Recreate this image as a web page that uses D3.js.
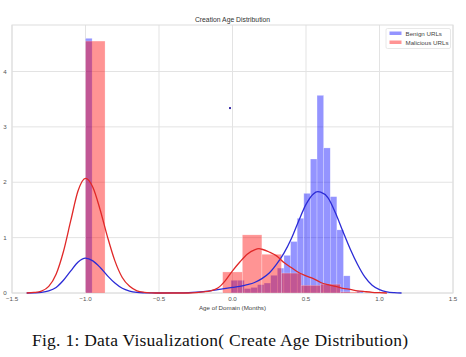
<!DOCTYPE html>
<html><head><meta charset="utf-8">
<script src="https://cdn.jsdelivr.net/npm/d3@7"></script>
<style>
html,body{margin:0;padding:0;background:#fff;}
svg{display:block;}
</style></head>
<body>
<svg id="chart" width="466" height="357"></svg>
<script>
// ---------- data ----------
const title = "Creation Age Distribution";
const xLabel = "Age of Domain (Months)";
const caption = "Fig. 1: Data Visualization( Create Age Distribution)";
const seriesNames = ["Benign URLs", "Malicious URLs"];
const xTicks = [-1.5, -1.0, -0.5, 0.0, 0.5, 1.0, 1.5];
const xTickLabels = ["\u22121.5", "\u22121.0", "\u22120.5", "0.0", "0.5", "1.0", "1.5"];
const yTicks = [0, 1, 2, 3, 4];
const yTickLabels = ["0", "1", "2", "3", "4"];

// benign histogram: lower bin edges, upper bin edges, density
const benignLo = [-1.0, -0.01, 0.035, 0.08, 0.125, 0.17, 0.215, 0.26, 0.305, 0.35, 0.395, 0.44, 0.485, 0.53, 0.575, 0.62, 0.665, 0.71, 0.755, 0.845];
const benignHi = [-0.955, 0.035, 0.08, 0.125, 0.17, 0.215, 0.26, 0.305, 0.35, 0.395, 0.44, 0.485, 0.53, 0.575, 0.62, 0.665, 0.71, 0.755, 0.80, 0.89];
const benignH  = [4.6, 0.23, 0.23, 0.08, 0.10, 0.15, 0.18, 0.32, 0.45, 0.68, 0.93, 1.35, 1.80, 2.42, 3.57, 2.62, 1.74, 1.14, 0.31, 0.04];

// malicious histogram
const malLo = [-1.0, -0.067, 0.067, 0.2, 0.333, 0.467, 0.6, 0.733];
const malHi = [-0.867, 0.067, 0.2, 0.333, 0.467, 0.6, 0.733, 0.867];
const malH  = [4.55, 0.38, 1.05, 0.70, 0.36, 0.14, 0.16, 0.02];

// KDE curves
const benignKdeX = [-1.4, -1.35, -1.3, -1.25, -1.2, -1.15, -1.1, -1.05, -1.0, -0.95, -0.9, -0.85, -0.8, -0.75, -0.7, -0.65, -0.6, -0.55, -0.5, -0.4, -0.3, -0.2, -0.1, 0.0, 0.05, 0.1, 0.15, 0.2, 0.25, 0.3, 0.35, 0.4, 0.45, 0.5, 0.55, 0.58, 0.6, 0.65, 0.7, 0.75, 0.8, 0.85, 0.9, 0.95, 1.0, 1.05, 1.1, 1.15];
const benignKdeY = [0.0, 0.003, 0.011, 0.037, 0.10, 0.23, 0.40, 0.56, 0.63, 0.58, 0.46, 0.31, 0.18, 0.085, 0.036, 0.012, 0.004, 0.001, 0.0, 0.002, 0.008, 0.025, 0.06, 0.10, 0.12, 0.15, 0.19, 0.26, 0.36, 0.52, 0.72, 0.98, 1.30, 1.60, 1.79, 1.83, 1.82, 1.72, 1.45, 1.12, 0.80, 0.52, 0.29, 0.14, 0.06, 0.02, 0.005, 0.0];
const malKdeX = [-1.4, -1.35, -1.3, -1.25, -1.2, -1.15, -1.1, -1.05, -1.0, -0.95, -0.9, -0.85, -0.8, -0.75, -0.7, -0.65, -0.6, -0.55, -0.5, -0.4, -0.3, -0.25, -0.2, -0.15, -0.1, -0.05, 0.0, 0.05, 0.1, 0.15, 0.18, 0.2, 0.25, 0.3, 0.35, 0.4, 0.45, 0.5, 0.55, 0.6, 0.65, 0.7, 0.75, 0.8, 0.85, 0.9, 0.95, 1.0, 1.05];
const malKdeY = [0.0, 0.01, 0.035, 0.12, 0.34, 0.75, 1.31, 1.85, 2.07, 1.91, 1.50, 1.01, 0.58, 0.28, 0.12, 0.04, 0.012, 0.003, 0.0, 0.0, 0.0, 0.005, 0.02, 0.04, 0.09, 0.22, 0.40, 0.56, 0.70, 0.78, 0.80, 0.79, 0.74, 0.67, 0.55, 0.46, 0.37, 0.31, 0.26, 0.19, 0.15, 0.12, 0.085, 0.065, 0.04, 0.025, 0.012, 0.005, 0.0];

// stray point visible in the plot
const strayX = [-0.017];
const strayY = [3.34];

// ---------- drawing ----------
const svg = d3.select("#chart");
const L = 12, R = 453, T = 25, B = 293;
const x = d3.scaleLinear().domain([-1.5, 1.5]).range([L, R]);
const y = d3.scaleLinear().domain([0, 4.84]).range([B, T]);
const blue = "#0000ff", red = "#ff0000";
const font = "'Liberation Sans', Arial, sans-serif";

// grid
const g = svg.append("g");
g.selectAll(".gx").data(xTicks).enter().append("line")
  .attr("x1", d => x(d)).attr("x2", d => x(d)).attr("y1", T).attr("y2", B)
  .attr("stroke", "#e3e3e3").attr("stroke-width", 1);
g.selectAll(".gy").data(yTicks).enter().append("line")
  .attr("x1", L).attr("x2", R).attr("y1", d => y(d)).attr("y2", d => y(d))
  .attr("stroke", "#e3e3e3").attr("stroke-width", 1);
g.append("rect").attr("x", L).attr("y", T).attr("width", R - L).attr("height", B - T)
  .attr("fill", "none").attr("stroke", "#dedede").attr("stroke-width", 1);

// histograms
function bars(lo, hi, h, color) {
  svg.append("g").selectAll("rect").data(d3.range(lo.length)).enter().append("rect")
    .attr("x", i => x(lo[i])).attr("width", i => x(hi[i]) - x(lo[i]))
    .attr("y", i => y(h[i])).attr("height", i => y(0) - y(h[i]))
    .attr("fill", color).attr("fill-opacity", 0.42)
    .attr("stroke", "#fff").attr("stroke-opacity", 0.5).attr("stroke-width", 0.5);
}
bars(benignLo, benignHi, benignH, blue);
bars(malLo, malHi, malH, red);

// KDE lines
const line = d3.line().x(d => x(d[0])).y(d => y(d[1])).curve(d3.curveMonotoneX);
svg.append("path").datum(d3.zip(benignKdeX, benignKdeY)).attr("d", line)
  .attr("fill", "none").attr("stroke", "#2b2bd6").attr("stroke-width", 1.3);
svg.append("path").datum(d3.zip(malKdeX, malKdeY)).attr("d", line)
  .attr("fill", "none").attr("stroke", "#e02828").attr("stroke-width", 1.3);

// stray point
svg.selectAll(".stray").data(d3.zip(strayX, strayY)).enter().append("rect")
  .attr("x", d => x(d[0]) - 1).attr("y", d => y(d[1]) - 1).attr("width", 2).attr("height", 2)
  .attr("fill", "#3b2fa8");

// tick labels
svg.selectAll(".xt").data(xTicks).enter().append("text")
  .attr("x", d => x(d)).attr("y", B + 7.8).attr("text-anchor", "middle")
  .attr("font-family", font).attr("font-size", 6.2).attr("fill", "#555")
  .text((d, i) => xTickLabels[i]);
svg.selectAll(".yt").data(yTicks).enter().append("text")
  .attr("x", 5).attr("y", d => y(d) + 2.2).attr("text-anchor", "middle")
  .attr("font-family", font).attr("font-size", 6.2).attr("fill", "#555")
  .text((d, i) => yTickLabels[i]);

// titles
svg.append("text").attr("x", (L + R) / 2).attr("y", 22).attr("text-anchor", "middle")
  .attr("font-family", font).attr("font-size", 6.8).attr("fill", "#333").text(title);
svg.append("text").attr("x", (L + R) / 2).attr("y", 309.5).attr("text-anchor", "middle")
  .attr("font-family", font).attr("font-size", 6.2).attr("fill", "#444").text(xLabel);

// legend
const lg = svg.append("g");
lg.append("rect").attr("x", 386).attr("y", 28.5).attr("width", 64.5).attr("height", 20)
  .attr("fill", "#fff").attr("fill-opacity", 0.8).attr("stroke", "#e2e2e2").attr("stroke-width", 0.8).attr("rx", 1.5);
[blue, red].forEach((c, i) => {
  lg.append("rect").attr("x", 389.5).attr("y", 31.5 + i * 9).attr("width", 12).attr("height", 3.5)
    .attr("fill", c).attr("fill-opacity", 0.42);
  lg.append("text").attr("x", 405.5).attr("y", 35.5 + i * 9)
    .attr("font-family", font).attr("font-size", 6.2).attr("fill", "#444").text(seriesNames[i]);
});

// caption
svg.append("text").attr("x", 32).attr("y", 346)
  .attr("font-family", "'Liberation Serif', 'Times New Roman', serif").attr("font-size", 17.5)
  .attr("textLength", 376).attr("lengthAdjust", "spacing")
  .attr("fill", "#111").text(caption);
</script>
</body></html>
